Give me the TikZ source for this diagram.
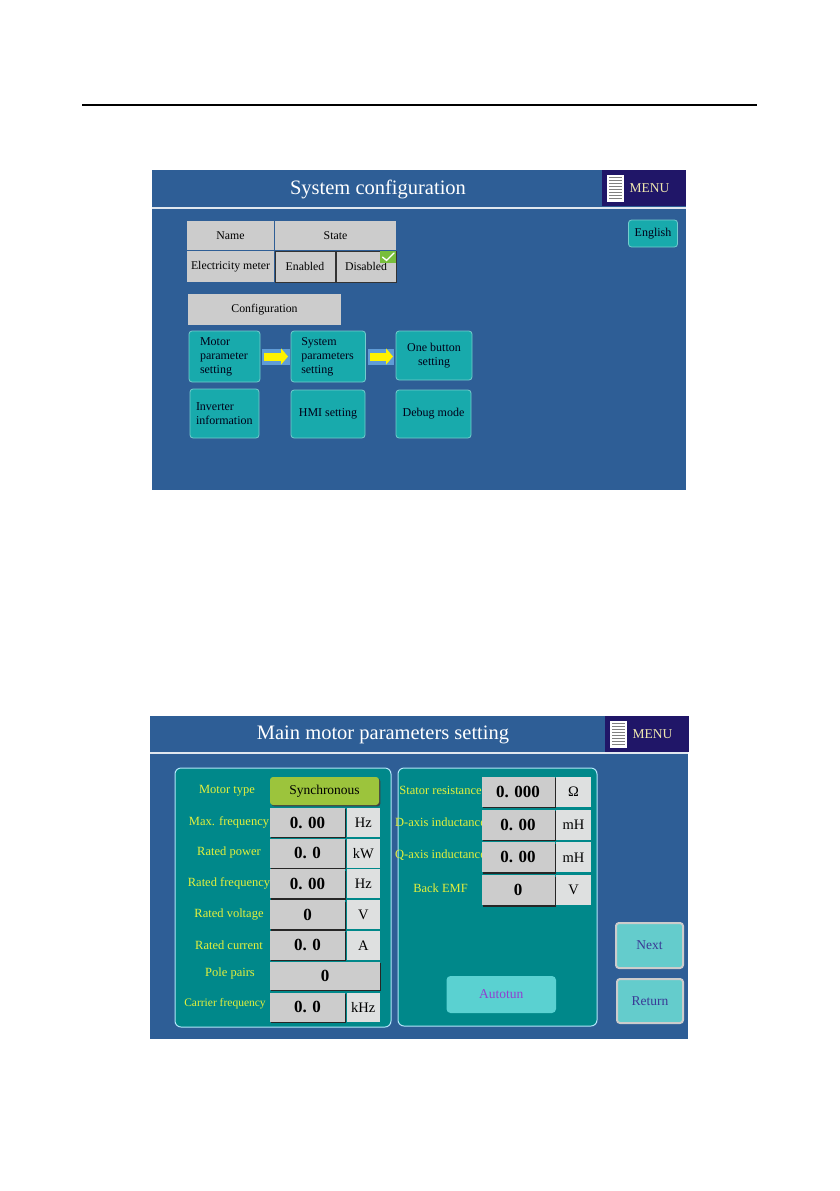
\documentclass[tikz,border=0pt]{standalone}
\usepackage{fontspec}
\setmainfont{Liberation Serif}
\usetikzlibrary{positioning,arrows.meta,shadows}
\definecolor{scrbg}{RGB}{46,94,150}
\definecolor{menubg}{RGB}{32,22,104}
\definecolor{btnteal}{RGB}{24,170,172}
\definecolor{panelteal}{RGB}{0,136,138}
\definecolor{lightteal}{RGB}{100,204,204}
\definecolor{cellgray}{RGB}{204,204,204}
\definecolor{unitgray}{RGB}{222,224,224}
\definecolor{lbltext}{RGB}{228,240,60}
\definecolor{syncgreen}{RGB}{156,196,60}
\definecolor{autotext}{RGB}{144,64,208}
\definecolor{navtext}{RGB}{58,58,150}
\definecolor{checkgreen}{RGB}{120,190,60}
\definecolor{arrband}{RGB}{96,156,214}
\definecolor{menutext}{RGB}{240,232,176}

\begin{document}
\begin{tikzpicture}[x=1pt,y=-1pt,
  box/.style={inner sep=0,outer sep=0,anchor=north west},
  title/.style={text=white,font=\fontsize{20.5}{22}\selectfont},
  menubox/.style={box,fill=menubg,minimum width=84,minimum height=36},
  docicon/.style={inner sep=0,fill=white,minimum width=17,minimum height=27},
  cell/.style={box,fill=cellgray,font=\fontsize{11.8}{13}\selectfont},
  stcell/.style={cell,draw=black!80,line width=0.9},
  tbtn/.style={box,fill=btnteal,draw=btnteal!60!white,line width=0.8,rounded corners=3,
    text=black!90!blue,font=\fontsize{12}{14}\selectfont},
  yarrow/.style={yellow,line width=8,-{Triangle[length=7,width=16]},shorten <=4,shorten >=3},
  panel/.style={box,fill=panelteal,draw=cyan!30!white,line width=1,rounded corners=6},
  lbl/.style={text=lbltext,font=\fontsize{12.5}{14}\selectfont},
  valbox/.style={box,fill=cellgray,minimum width=75,minimum height=29,
    drop shadow={shadow xshift=1.4pt,shadow yshift=-1.4pt,fill=black!85,opacity=1},
    font=\bfseries\fontsize{17}{18}\selectfont},
  unitbox/.style={box,fill=unitgray,minimum width=33.5,minimum height=29,
    font=\fontsize{14.5}{16}\selectfont},
  navbtn/.style={box,fill=lightteal,draw=black!20,line width=2,rounded corners=3,
    minimum width=66,minimum height=44,text=navtext,font=\fontsize{13.5}{15}\selectfont}]
\useasboundingbox (0,0) rectangle (839,1191);
\draw[line width=2] (82,105) -- (757,105);
% system configuration screen
\fill[scrbg] (152,170) rectangle (686,490);
\draw[white!85!scrbg,line width=2] (152,208) -- (686,208);
\node[menubox] (menu1) at (602,170) {};
\node[docicon,right=5pt of menu1.west] (doc1) {};
\foreach \k in {1,...,8}
  \draw[gray,line width=0.6] ([shift={(2,3*\k)}]doc1.north west) -- ([shift={(-2,3*\k)}]doc1.north east);
\node[right=5pt of doc1,text=menutext,font=\fontsize{13.5}{15}\selectfont,inner sep=0] (menutxt1) {MENU};
\node[title] (ttl1) at (378,189) {System configuration};
\node[cell,minimum width=87,minimum height=29] (name) at (187,221) {Name};
\node[cell,minimum width=121,minimum height=29] (state) at (275,221) {State};
\node[cell,minimum width=87,minimum height=31] (meter) at (187,251) {Electricity meter};
\node[stcell,minimum width=60,minimum height=31] (enabled) at (275,251) {Enabled};
\node[stcell,minimum width=60,minimum height=31] (disabled) at (336,251) {Disabled};
\node[inner sep=0,fill=checkgreen,minimum width=16,minimum height=12,anchor=north east] (chk) at (disabled.north east) {};
\draw[white,line width=1.4,line cap=round] ([xshift=3]chk.west) -- ([shift={(7,-3)}]chk.south west) -- ([shift={(-2,2)}]chk.north east);
\node[cell,minimum width=153,minimum height=31] (config) at (188,294) {Configuration};
\node[tbtn,minimum width=71,minimum height=51,align=left,text width=49,inner xsep=11] (motor) at (189,331) {Motor\\parameter\\setting};
\node[tbtn,minimum width=74.5,minimum height=51,align=left,text width=54,inner xsep=10] (syspar) at (291,331) {System\\parameters\\setting};
\node[tbtn,minimum width=76,minimum height=49,align=center] (onebtn) at (396,331) {One button\\setting};
\node[tbtn,minimum width=69,minimum height=49,align=left,text width=57,inner xsep=6] (inverter) at (190,389) {Inverter\\information};
\node[tbtn,minimum width=74,minimum height=48] (hmi) at (291,390) {HMI setting};
\node[tbtn,minimum width=75,minimum height=48] (debug) at (396,390) {Debug mode};
\fill[arrband] ([shift={(2,-8)}]motor.east) rectangle ([shift={(-1,8)}]syspar.west);
\fill[arrband] ([shift={(2,-8)}]syspar.east) rectangle ([shift={(-2,8)}]onebtn.west|-syspar.east);
\draw[yarrow] (motor.east) -- (syspar.west);
\draw[yarrow] (syspar.east) -- (onebtn.west|-syspar.east);
\node[tbtn,minimum width=49,minimum height=27] (english) at (628.5,220) {English};
% main motor parameters screen
\fill[scrbg] (150,716) rectangle (688,1039);
\draw[white!85!scrbg,line width=2] (150,753) -- (688,753);
\node[menubox,minimum width=83.5] (menu2) at (605,716) {};
\node[docicon,right=5pt of menu2.west] (doc2) {};
\foreach \k in {1,...,8}
  \draw[gray,line width=0.6] ([shift={(2,3*\k)}]doc2.north west) -- ([shift={(-2,3*\k)}]doc2.north east);
\node[right=5pt of doc2,text=menutext,font=\fontsize{13.5}{15}\selectfont,inner sep=0] (menutxt2) {MENU};
\node[title] (ttl2) at (383,735) {Main motor parameters setting};
\node[panel,minimum width=216,minimum height=259] (lpanel) at (175,768) {};
\node[panel,minimum width=199,minimum height=258] (rpanel) at (398,768) {};
\node[lbl] (typelbl) at (227,791) {Motor type};
\node[box,fill=syncgreen,rounded corners=3,minimum width=109,minimum height=28,
  drop shadow={shadow xshift=1.4pt,shadow yshift=-1.4pt,fill=black!75,opacity=1},
  font=\fontsize{13.5}{15}\selectfont] (sync) at (270,777) {Synchronous};
\foreach \lname/\lval/\lunit [count=\i from 0] in {Max. frequency/0. 00/Hz,Rated power/0. 0/kW,
    Rated frequency/0. 00/Hz,Rated voltage/0/V,Rated current/0. 0/A}{
  \node[lbl] (plbl\i) at (229,822+30.7*\i) {\lname};
  \node[valbox] (pval\i) at (270,808+30.7*\i) {\lval};
  \node[unitbox] (punit\i) at (346.5,808+30.7*\i) {\lunit};
}
\node[lbl] (polelbl) at (230,973) {Pole pairs};
\node[valbox,minimum width=110,minimum height=28] (poleval) at (270,962) {0};
\node[lbl,font=\fontsize{11.5}{13}\selectfont] (carrlbl) at (225,1004) {Carrier frequency};
\node[valbox] (carrval) at (270,992.5) {0. 0};
\node[unitbox] (carrunit) at (346.5,992.5) {kHz};
\foreach \lname/\lval/\lunit [count=\i from 0] in {Stator resistance/0. 000/Ω,D-axis inductance/0. 00/mH,
    Q-axis inductance/0. 00/mH,Back EMF/0/V}{
  \node[lbl] (mlbl\i) at (440.5,790+32.7*\i) {\lname};
  \node[valbox,minimum width=73,minimum height=30] (mval\i) at (481.5,777+32.7*\i) {\lval};
  \node[unitbox,minimum width=35,minimum height=30] (munit\i) at (556,777+32.7*\i) {\lunit};
}
\node[box,fill=lightteal!90!cyan,rounded corners=4,minimum width=109.5,minimum height=37,
  text=autotext,font=\fontsize{13.5}{15}\selectfont] (autotun) at (446.5,976) {Autotun};
\node[navbtn,minimum width=67,minimum height=45] (next) at (616,923) {Next};
\node[navbtn] (return) at (617,979) {Return};
\end{tikzpicture}
\end{document}
